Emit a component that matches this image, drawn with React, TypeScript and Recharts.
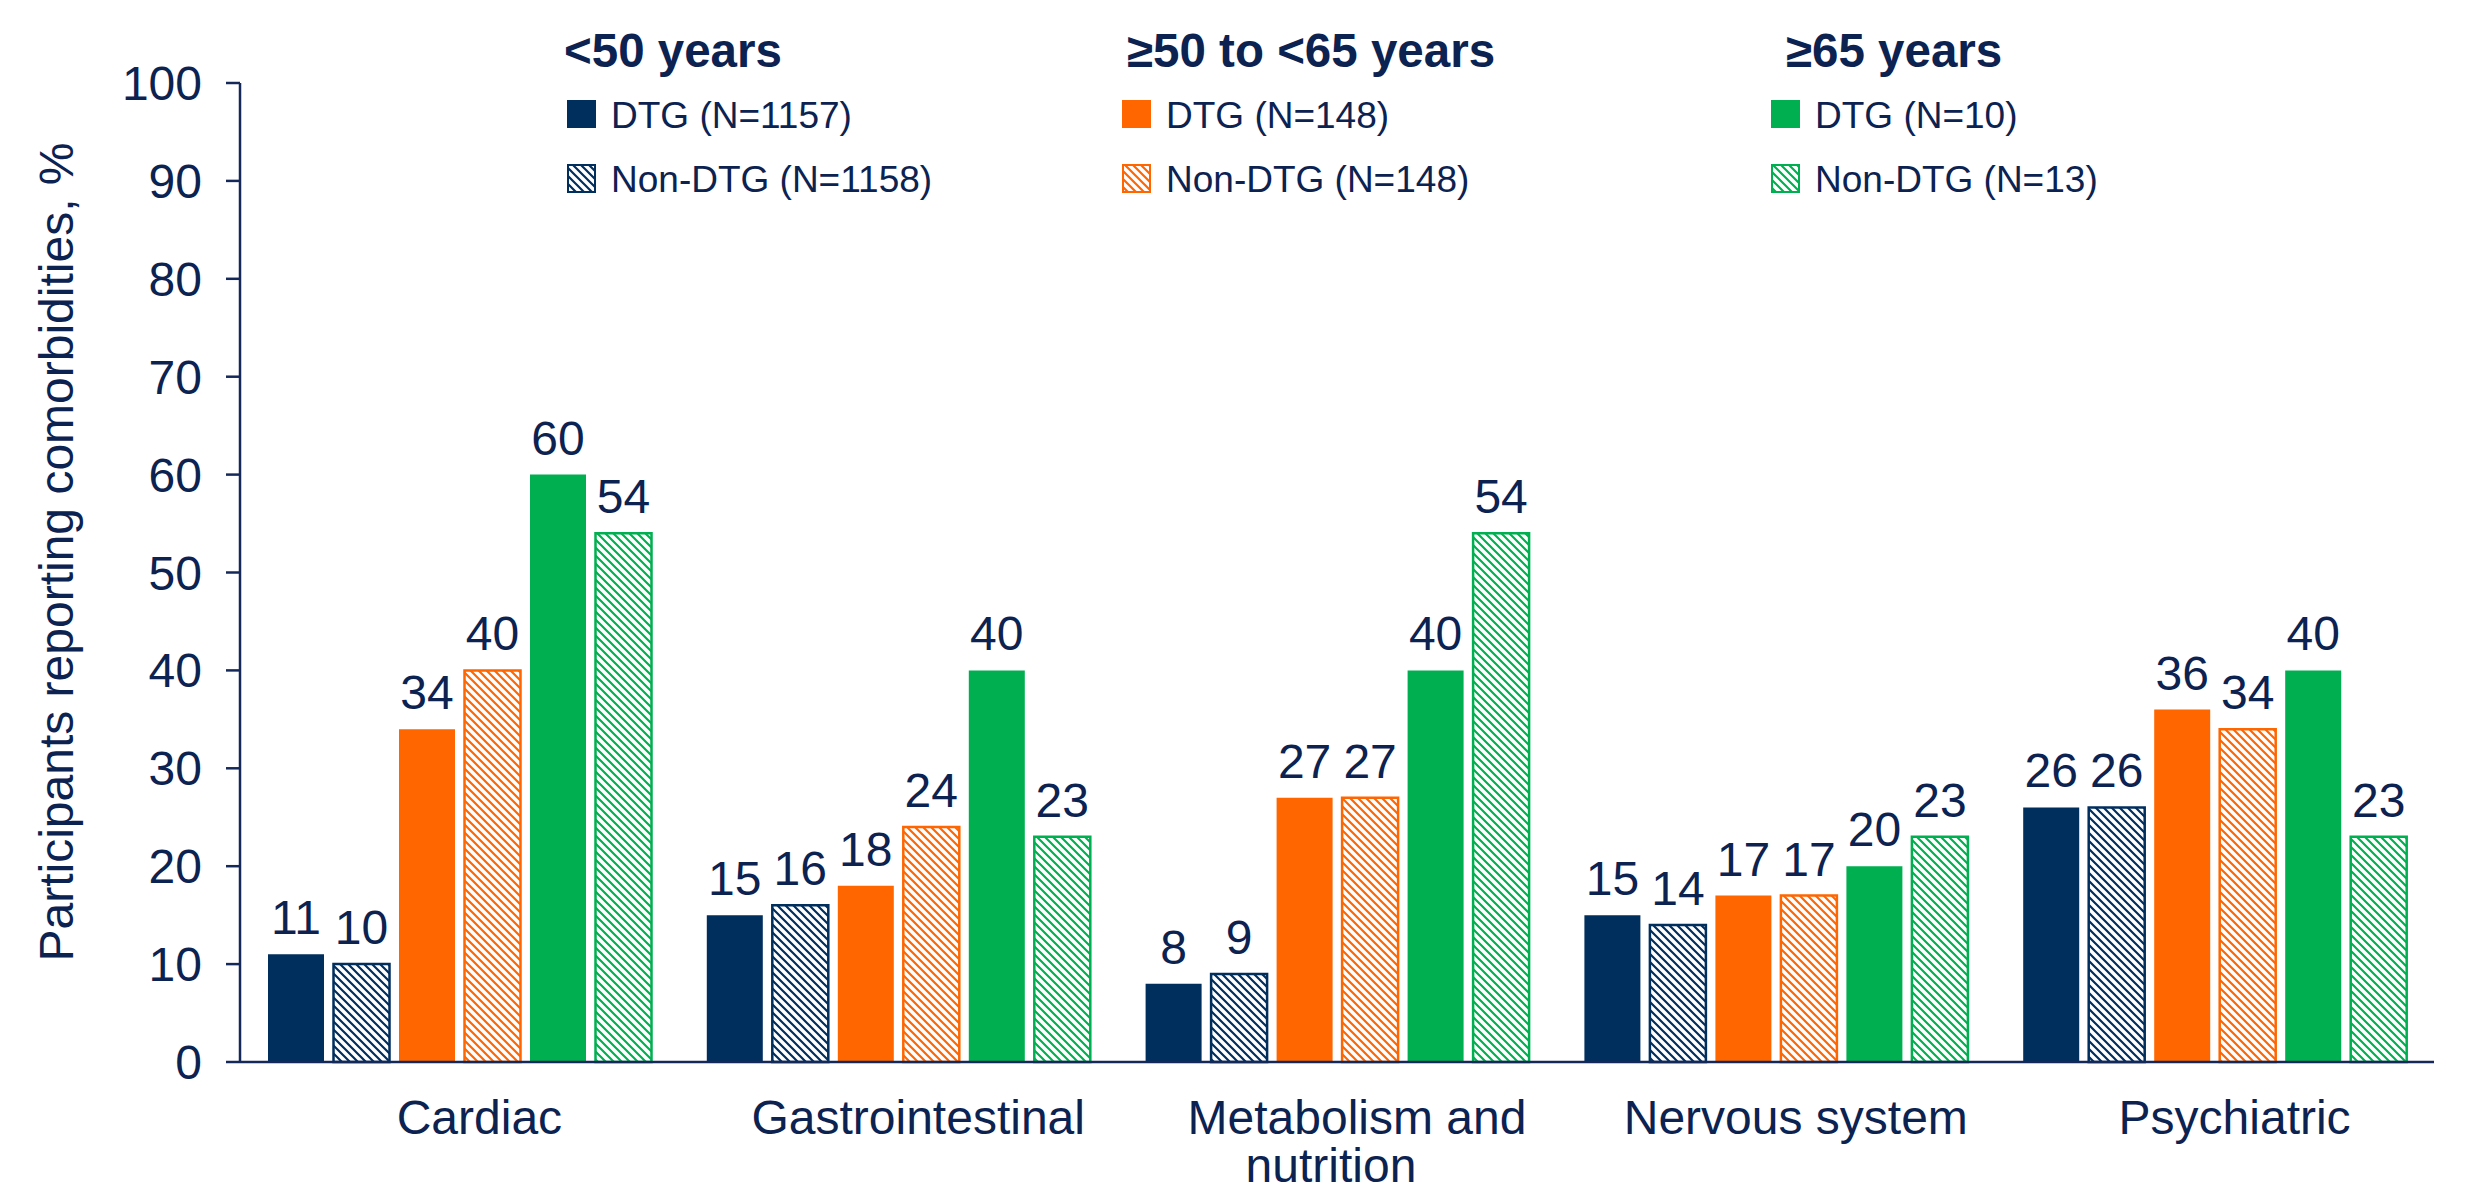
import React from "react";
import { BarChart, Bar, XAxis, YAxis, LabelList } from "recharts";

// ---------- data ----------
const categories = [
  "Cardiac",
  "Gastrointestinal",
  "Metabolism and\nnutrition",
  "Nervous system",
  "Psychiatric",
];
const under50Dtg = [11, 15, 8, 15, 26];
const under50NonDtg = [10, 16, 9, 14, 26];
const from50to65Dtg = [34, 18, 27, 17, 36];
const from50to65NonDtg = [40, 24, 27, 17, 34];
const over65Dtg = [60, 40, 40, 20, 40];
const over65NonDtg = [54, 23, 54, 23, 23];
const yTicks = [0, 10, 20, 30, 40, 50, 60, 70, 80, 90, 100];

const groupTitles = ["<50 years", "\u226550 to <65 years", "\u226565 years"];
const dtgLabels = ["DTG (N=1157)", "DTG (N=148)", "DTG (N=10)"];
const nonDtgLabels = ["Non-DTG (N=1158)", "Non-DTG (N=148)", "Non-DTG (N=13)"];
const yAxisTitle = "Participants reporting comorbidities, %";

// ---------- styles ----------
const W = 2450;
const H = 1185;
const FONT = "'Liberation Sans', Arial, Helvetica, sans-serif";
const TEXT = "#0C2251";
const AXIS = "#14295A";
const COLORS = ["#002E5D", "#FF6600", "#00B050"];
const LEGEND_X = [559, 1114, 1763]; // marker left per column (chart px)
const HEADER_X = [556, 1119, 1778];

const series = [
  { key: "u50_dtg", values: under50Dtg, group: 0, hatched: false },
  { key: "u50_non", values: under50NonDtg, group: 0, hatched: true },
  { key: "m_dtg", values: from50to65Dtg, group: 1, hatched: false },
  { key: "m_non", values: from50to65NonDtg, group: 1, hatched: true },
  { key: "o65_dtg", values: over65Dtg, group: 2, hatched: false },
  { key: "o65_non", values: over65NonDtg, group: 2, hatched: true },
];

const data = categories.map((c, i) => {
  const row: Record<string, any> = { category: c };
  series.forEach((s) => {
    row[s.key] = s.values[i];
  });
  return row;
});

const Patterns = ({ prefix }: { prefix: string }) => (
  <defs>
    {COLORS.map((c, i) => (
      <pattern
        key={i}
        id={`${prefix}${i}`}
        patternUnits="userSpaceOnUse"
        width={8}
        height={8}
      >
        <rect x={0} y={0} width={8} height={8} fill="#ffffff" />
        <path
          d="M-2,-2 L10,10 M-2,6 L2,10 M6,-2 L10,2"
          stroke={c}
          strokeWidth={2.2}
        />
      </pattern>
    ))}
  </defs>
);

const CategoryTick = (props: any) => {
  const { x, y, payload } = props;
  const lines = String(payload.value).split("\n");
  const shifts = [20, -6];
  return (
    <text
      y={y + 72}
      textAnchor="middle"
      fill={TEXT}
      fontSize={48}
      fontFamily={FONT}
    >
      {lines.map((ln, i) => (
        <tspan key={i} x={x + shifts[i]} dy={i === 0 ? 0 : 48}>
          {ln}
        </tspan>
      ))}
    </text>
  );
};

const Overlay = () => (
  <svg
    width={W}
    height={H}
    style={{ position: "absolute", left: 0, top: 0, pointerEvents: "none" }}
  >
    <Patterns prefix="legHatch" />
    <text
      x={65}
      y={544}
      transform="rotate(-90, 65, 544)"
      textAnchor="middle"
      fill={TEXT}
      fontSize={48}
      fontFamily={FONT}
    >
      {yAxisTitle}
    </text>
    {groupTitles.map((t, i) => (
      <g key={i}>
        <text
          x={HEADER_X[i]}
          y={59}
          fill={TEXT}
          fontSize={47.5}
          fontWeight="bold"
          fontFamily={FONT}
        >
          {t}
        </text>
        <rect
          x={LEGEND_X[i]}
          y={92}
          width={29}
          height={28}
          fill={COLORS[i]}
        />
        <text
          x={LEGEND_X[i] + 44}
          y={120}
          fill={TEXT}
          fontSize={37}
          fontFamily={FONT}
        >
          {dtgLabels[i]}
        </text>
        <rect
          x={LEGEND_X[i] + 1}
          y={157}
          width={27}
          height={27}
          fill={`url(#legHatch${i})`}
          stroke={COLORS[i]}
          strokeWidth={2}
        />
        <text
          x={LEGEND_X[i] + 44}
          y={184}
          fill={TEXT}
          fontSize={37}
          fontFamily={FONT}
        >
          {nonDtgLabels[i]}
        </text>
      </g>
    ))}
  </svg>
);

export default function App() {
  return (
    <div
      style={{
        position: "relative",
        width: W,
        height: H,
        marginBottom: -8,
        background: "#fff",
      }}
    >
      <BarChart
        width={W}
        height={H}
        data={data}
        margin={{ top: 75, right: 24, bottom: 0, left: 0 }}
        barSize={56}
        barGap={9.5}
      >
        <Patterns prefix="barHatch" />
        <XAxis
          dataKey="category"
          height={131}
          axisLine={{ stroke: AXIS, strokeWidth: 2.5 }}
          tickLine={false}
          tickSize={0}
          tickMargin={0}
          interval={0}
          tick={<CategoryTick />}
        />
        <YAxis
          width={232}
          domain={[0, 100]}
          ticks={yTicks}
          interval={0}
          axisLine={{ stroke: AXIS, strokeWidth: 2.5 }}
          tickLine={{ stroke: AXIS, strokeWidth: 2.5 }}
          tickSize={14}
          tickMargin={24}
          tick={{ fill: TEXT, fontSize: 48, fontFamily: FONT }}
        />
        {series.map((s) => (
          <Bar
            key={s.key}
            dataKey={s.key}
            isAnimationActive={false}
            fill={s.hatched ? `url(#barHatch${s.group})` : COLORS[s.group]}
            stroke={s.hatched ? COLORS[s.group] : "none"}
            strokeWidth={s.hatched ? 2.5 : 0}
          >
            <LabelList
              dataKey={s.key}
              position="top"
              offset={20}
              fill={TEXT}
              fontSize={48}
              fontFamily={FONT}
            />
          </Bar>
        ))}
      </BarChart>
      <Overlay />
    </div>
  );
}
